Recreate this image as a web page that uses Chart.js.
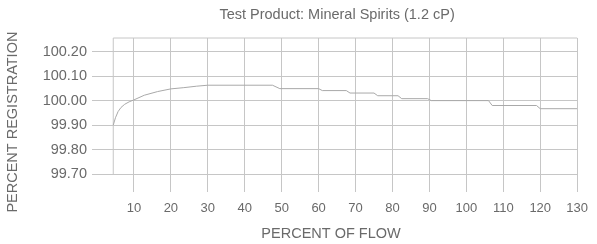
<!DOCTYPE html>
<html>
<head>
<meta charset="utf-8">
<script src="https://cdn.jsdelivr.net/npm/chart.js@4.4.1/dist/chart.umd.min.js"></script>
<style>
  html, body { margin: 0; padding: 0; background: #fff; }
  #wrap { width: 597px; height: 244px; }
</style>
</head>
<body>
<div id="wrap"><canvas id="chart"></canvas></div>
<script>
// percent of flow vs percent registration
const flow = [4.4, 5, 5.7, 6.5, 7.5, 8.7, 10, 12.8, 16.4, 20, 23.5, 27, 30, 47.5, 49.5, 60, 61, 67.5, 68.5, 75, 76, 81.5, 82.5, 89.5, 90.5, 106, 107, 119, 120, 130];
const registration = [99.90, 99.93, 99.955, 99.972, 99.985, 99.995, 100.003, 100.022, 100.037, 100.048, 100.053, 100.059, 100.063, 100.063, 100.049, 100.049, 100.041, 100.041, 100.031, 100.031, 100.020, 100.020, 100.008, 100.008, 100.000, 100.000, 99.980, 99.980, 99.967, 99.967];

const xTicks = [10, 20, 30, 40, 50, 60, 70, 80, 90, 100, 110, 120, 130];
const yTicks = [99.70, 99.80, 99.90, 100.00, 100.10, 100.20];

const xMin = 0, xMax = 130;
const yMin = 99.70, yMax = 100.256;

const gridColor = '#c6c6c6';
const textColor = '#6a6a6a';
const fontFamily = '"Liberation Sans", Arial, sans-serif';

// box drawn round the measured range: starts at the first flow value
const frame = [
    {x: flow[0], y: yMin},
    {x: flow[0], y: yMax},
    {x: xMax, y: yMax}
];

const chartConfig = {
    type: 'line',
    data: {
        datasets: [
            {
                label: 'Mineral Spirits',
                data: flow.map((f, i) => ({x: f, y: registration[i]})),
                borderColor: '#a9a9a9',
                borderWidth: 1,
                pointRadius: 0,
                tension: 0,
                fill: false
            },
            {
                label: 'frame',
                data: frame,
                borderColor: gridColor,
                borderWidth: 1,
                pointRadius: 0,
                fill: false,
                clip: false
            }
        ]
    },
    options: {
        animation: false,
        responsive: true,
        maintainAspectRatio: false,
        layout: {
            padding: {left: 0, right: 11, top: 0, bottom: 0}
        },
        plugins: {
            legend: {display: false},
            tooltip: {enabled: false},
            title: {
                display: true,
                fullSize: false,
                text: 'Test Product: Mineral Spirits (1.2 cP)',
                color: textColor,
                font: {family: fontFamily, size: 14.5, weight: 'normal'},
                padding: {top: 6, bottom: 14.6}
            }
        },
        scales: {
            x: {
                type: 'linear',
                min: xMin,
                max: xMax,
                afterBuildTicks: axis => { axis.ticks = xTicks.map(v => ({value: v})) },
                afterFit: axis => { axis.height = 70 },
                grid: {
                    color: gridColor,
                    tickColor: gridColor,
                    tickLength: 18,
                    lineWidth: 1
                },
                border: {display: false},
                ticks: {
                    color: textColor,
                    font: {family: fontFamily, size: 13},
                    padding: 9,
                    maxRotation: 0,
                    autoSkip: false,
                    callback: v => String(v)
                },
                title: {
                    display: true,
                    text: 'PERCENT OF FLOW\u00a0\u00a0\u00a0',
                    color: textColor,
                    font: {family: fontFamily, size: 14.5},
                    padding: {top: 0, bottom: 1.3}
                }
            },
            y: {
                type: 'linear',
                min: yMin,
                max: yMax,
                afterBuildTicks: axis => { axis.ticks = yTicks.map(v => ({value: v})) },
                afterFit: axis => { axis.width = 97 },
                grid: {
                    color: gridColor,
                    tickColor: gridColor,
                    tickLength: 5,
                    lineWidth: 1
                },
                border: {display: false},
                ticks: {
                    color: textColor,
                    font: {family: fontFamily, size: 14.5},
                    padding: 5,
                    callback: v => v.toFixed(2)
                },
                title: {
                    display: true,
                    text: 'PERCENT REGISTRATION\u00a0\u00a0\u00a0\u00a0\u00a0\u00a0\u00a0\u00a0',
                    color: textColor,
                    font: {family: fontFamily, size: 14.5},
                    padding: {top: 4.3, bottom: 0}
                }
            }
        }
    }
};

window.onload = () => {
    new Chart(document.getElementById('chart'), chartConfig);
};
</script>
</body>
</html>
